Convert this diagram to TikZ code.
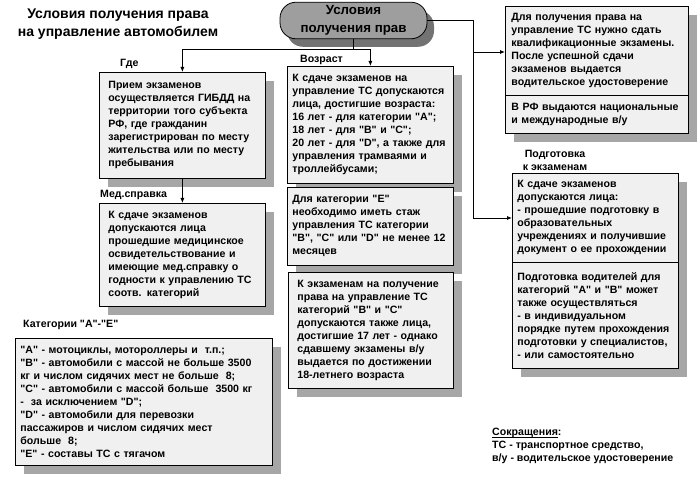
\documentclass[tikz,border=0pt]{standalone}
\usepackage{fontspec}
\setmainfont{Liberation Sans}[Ligatures=TeXOff]
\usetikzlibrary{positioning,shadows,arrows.meta}
\newcommand{\boxfont}{\fontsize{10.6}{13}\selectfont\bfseries}

\tikzset{
  box/.style={draw, line width=0.8pt, fill=black!6, anchor=north west, align=left,
    inner ysep=0pt, inner xsep=5pt, font=\boxfont,
    drop shadow={shadow xshift=9pt, shadow yshift=-9pt, fill=black!35, opacity=1}},
  lbl/.style={font=\boxfont, inner sep=0pt},
  arr/.style={line width=0.8pt, -{Latex[length=5pt,width=4pt]}}
}

\begin{document}
\begin{tikzpicture}[x=1pt, y=-1pt]
  \useasboundingbox[fill=white] (0,0) rectangle (700,478);

  % title and head
  \node (title) [align=center, font=\fontsize{14}{18}\selectfont\bfseries] at (118,24)
    {Условия получения права\\на управление автомобилем};
  \node (top) [draw, line width=0.8pt, rounded corners=16pt, fill=black!38,
    minimum width=147pt, minimum height=36pt, align=center,
    font=\fontsize{13.3}{18}\selectfont\bfseries,
    drop shadow={shadow xshift=7pt, shadow yshift=-8pt, fill=black!55, opacity=1}]
    at (353.5,20.5) {Условия\\получения прав};

  % left column
  \node[box, text width=148pt, minimum height=106pt, inner xsep=9pt] (gde) at (99,72)
    {Прием экзаменов\\осуществляется ГИБДД на\\территории того субъекта\\РФ, где гражданин\\зарегистрирован по месту\\жительства или по месту\\пребывания};
  \node[box, text width=148pt, minimum height=103pt, inner xsep=9pt] (med) at (99,203)
    {К сдаче экзаменов\\допускаются лица\\прошедшие медицинское\\освидетельствование и\\имеющие мед.справку о\\годности к управлению ТС\\соотв. категорий};
  \node[box, text width=247pt, minimum height=127pt] (cats) at (15,338)
    {"A" - мотоциклы, мотороллеры и \ т.п.;\\"B" - автомобили с массой не больше 3500\\кг и числом сидячих мест не больше \ 8;\\"C" - автомобили с массой больше \ 3500 кг\\- \ за исключением "D";\\"D" - автомобили для перевозки\\пассажиров и числом сидячих мест\\больше \ 8;\\"E" - составы ТС с тягачом};

  % middle column
  \node[box, text width=156pt, minimum height=117pt] (vozrast) at (287,66)
    {К сдаче экзаменов на\\управление ТС допускаются\\лица, достигшие возраста:\\16 лет - для категории "A";\\18 лет - для "B" и "C";\\20 лет - для "D", а также для\\управления трамваями и\\троллейбусами;};
  \node[box, text width=156pt, minimum height=78pt] (ecat) at (287,187)
    {Для категории "E"\\необходимо иметь стаж\\управления ТС категории\\"B", "C" или "D" не менее 12\\месяцев};
  \node[box, text width=147pt, minimum height=116pt, inner xsep=9pt] (age17) at (288,272)
    {К экзаменам на получение\\права на управление ТС\\категорий "B" и "C"\\допускаются также лица,\\достигшие 17 лет - однако\\сдавшему экзамены в/у\\выдается по достижении\\18-летнего возраста};

  % right column
  \node[box, text width=171pt, minimum height=89pt, inner xsep=6pt] (exam1) at (505,6)
    {Для получения права на\\управление ТС нужно сдать\\квалификационные экзамены.\\После успешной сдачи\\экзаменов выдается\\водительское удостоверение};
  \node[box, text width=171pt, minimum height=38pt, inner xsep=6pt] (exam2) at (505,95)
    {В РФ выдаются национальные\\и международные в/у};
  \node[box, text width=156pt, minimum height=89pt] (prep1) at (512,173)
    {К сдаче экзаменов\\допускаются лица:\\- прошедшие подготовку в\\образовательных\\учреждениях и получившие\\документ о ее прохождении};
  \node[box, text width=156pt, minimum height=106pt] (prep2) at (512,262)
    {Подготовка водителей для\\категорий "A" и "B" может\\также осуществляться\\- в индивидуальном\\порядке путем прохождения\\подготовки у специалистов,\\- или самостоятельно};

  % labels
  \node[lbl, anchor=west] (lgde) at (120,64) {Где};
  \node[lbl, anchor=west] (lvoz) at (300,60) {Возраст};
  \node[lbl, anchor=west] (lmed) at (100,195) {Мед.справка};
  \node[lbl, anchor=west] (lcat) at (23,325) {Категории "A"-"E"};
  \node[lbl, align=center] (lprep) at (555,160) {Подготовка\\к экзаменам};
  \node[lbl, anchor=north west, align=left] (abbr) at (492,430)
    {\underline{\smash{Сокращения}}:\\ТС - транспортное средство,\\в/у - водительское удостоверение};

  % connectors
  \path (top.south) ++(0,10) coordinate (split);
  \coordinate (busA) at (473,52);
  \coordinate (busB) at (473,218);
  \draw[line width=0.8pt] (top) -- (split);
  \draw[arr] (split) -| (gde);
  \draw[arr] (split) -| (vozrast);
  \draw[arr] (gde) -- (med);
  \draw[arr] (top.east) -| (busB) -- (busB -| prep1.west);
  \draw[arr] (busA) -- (busA -| exam1.west);
\end{tikzpicture}
\end{document}
